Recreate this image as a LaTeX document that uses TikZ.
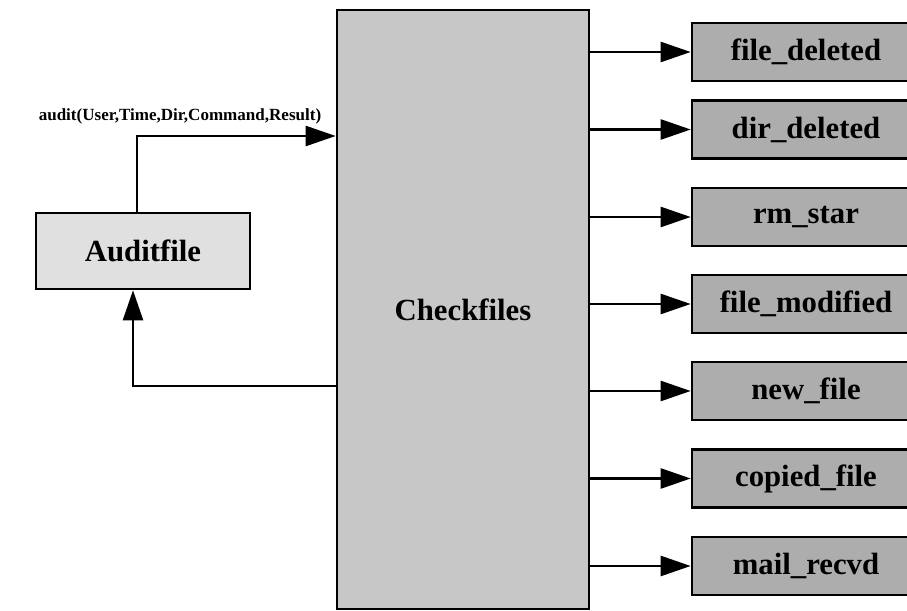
\documentclass[tikz,border=0pt]{standalone}
\usepackage{fontspec}
\setmainfont{Liberation Serif}
\usepackage{tikz}
\usetikzlibrary{arrows.meta}

\begin{document}
\begin{tikzpicture}[x = 0.02cm, y = -0.02cm,
  flow/.style = {line width = 1.4pt, -{Triangle[length = 0.6cm, width = 0.4cm]}},
  box/.style = {draw, line width = 1.5pt, inner sep = 0pt,
    font = \fontsize{17.5}{20}\bfseries\selectfont},
  outbox/.style = {box, fill = black!32, minimum width = 4.56cm, minimum height = 1.16cm}]
\useasboundingbox (0, 0) rectangle (907, 611);
\node (auditfile) at (143, 251) [box, fill = black!12,
  minimum width = 4.28cm, minimum height = 1.52cm] {Auditfile};
\node (checkfiles) at (463, 309.5) [box, fill = black!22,
  minimum width = 5.04cm, minimum height = 11.98cm] {Checkfiles};
\node (auditlbl) at (180, 116) [font = \fontsize{9.7}{11}\bfseries\selectfont]
  {audit(User,Time,Dir,Command,Result)};
\coordinate (up) at (137, 136);
\coordinate (down) at (133, 386);
\draw [flow] (auditfile.north -| up) |- (checkfiles.west |- up);
\draw [flow] (checkfiles.west |- down) -| (auditfile.south -| down);
\foreach \name/\txt/\y in {fdel/file\_deleted/52, ddel/dir\_deleted/129.5,
    rmstar/rm\_star/217, fmod/file\_modified/304, nfile/new\_file/391,
    cfile/copied\_file/478.5, mail/mail\_recvd/566}
{
  \node (\name) at (806, \y) [outbox] {\txt};
  \draw [flow] (checkfiles.east |- \name) -- (\name.west);
}
\end{tikzpicture}
\end{document}
